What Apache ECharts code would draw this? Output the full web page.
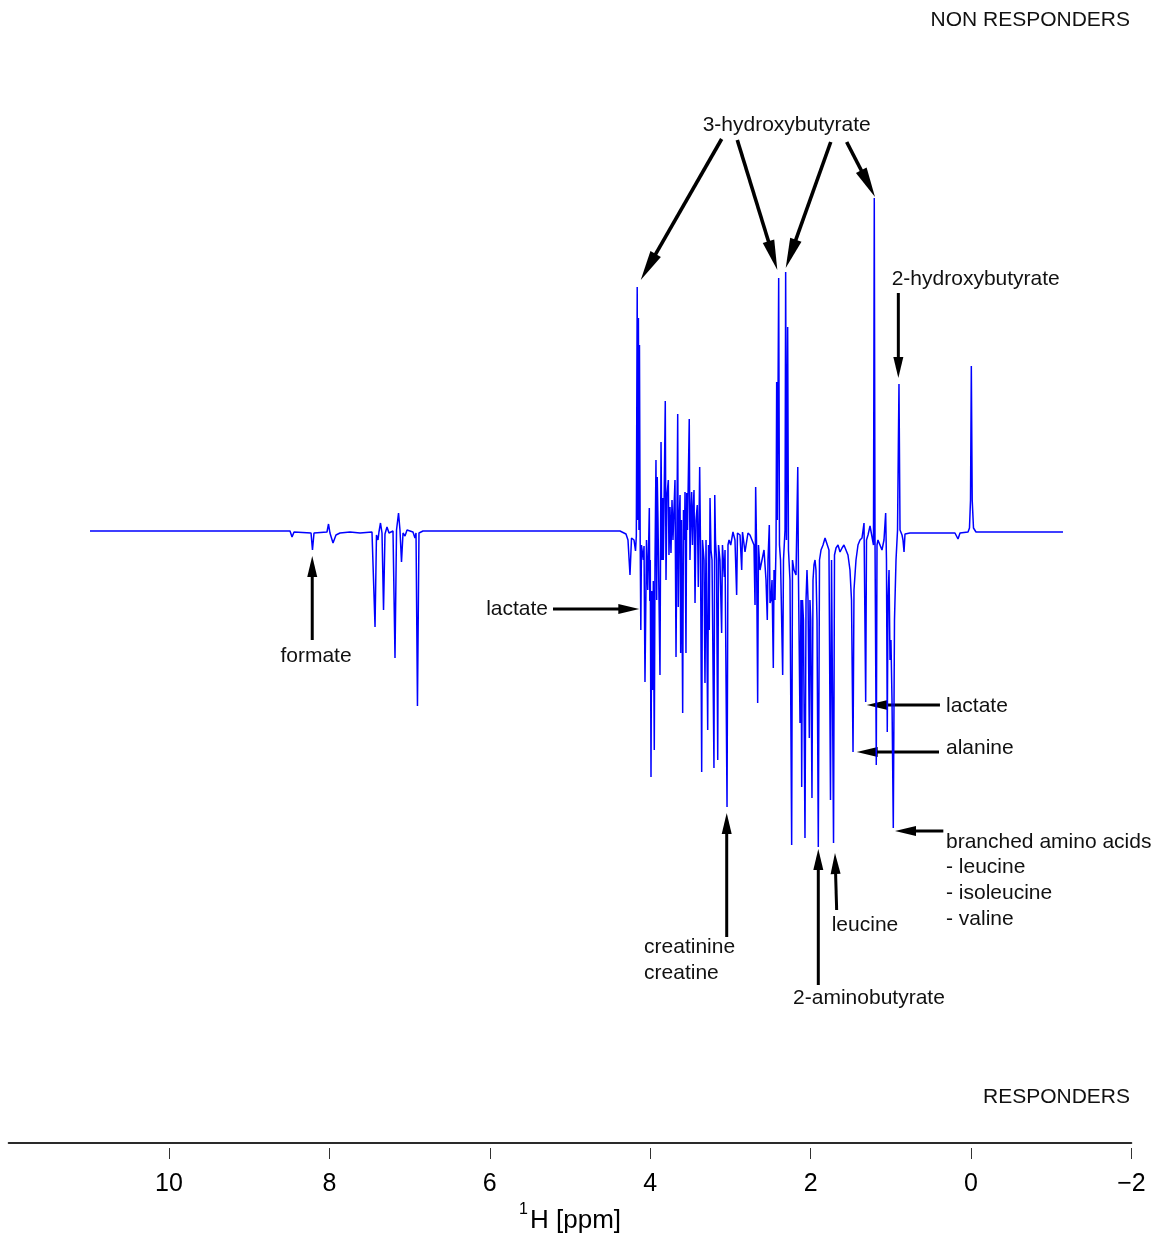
<!DOCTYPE html>
<html>
<head>
<meta charset="utf-8">
<script src="https://cdn.jsdelivr.net/npm/echarts@6/dist/echarts.min.js"></script>
<style>
  html, body { margin: 0; padding: 0; background: #ffffff; }
  #main { width: 1160px; height: 1238px; }
</style>
</head>
<body>
<div id="main"></div>
<script>
// ---- spectrum data: [chemical shift (ppm), intensity difference (a.u.)] ----
const aromaticRegion = [
  [10.985,0],[8.491,0],[8.466,-6],[8.441,-1],[8.229,-2],[8.211,-19],[8.192,-2],[8.030,-1],[8.011,7],[7.993,-2],
  [7.955,-12],[7.918,-4],[7.868,-2],[7.743,-1],[7.618,-2],[7.469,-1],[7.431,-96],[7.413,-4],[7.394,-9],[7.382,-1],
  [7.363,8],[7.344,-2],[7.325,-79],[7.307,-3],[7.282,4],[7.257,-2],[7.207,0],[7.182,-127],[7.163,1],[7.138,18],
  [7.120,1],[7.101,-31],[7.082,-2],[7.057,-5],[7.032,1],[6.958,-1],[6.933,-7],[6.920,-2],[6.902,-175],[6.883,-2],
  [6.833,0],[4.377,0]
];
const sugarRegion = [
  [4.352,-1],[4.302,-3],[4.277,-9],[4.252,-44],[4.233,-7],[4.202,-9],[4.183,-20],[4.173,-5],[4.162,244],[4.155,11],
  [4.147,213],[4.140,1],[4.134,186],[4.125,-9],[4.117,-99],[4.109,-14],[4.086,-29],[4.077,-15],[4.065,-151],[4.046,-9],
  [4.031,-59],[4.021,-20],[4.011,23],[4.005,-70],[3.999,-29],[3.990,-246],[3.981,-60],[3.969,-159],[3.961,-50],[3.949,-219],
  [3.940,-29],[3.928,71],[3.919,-69],[3.912,54],[3.903,11],[3.890,-69],[3.878,-144],[3.865,89],[3.853,-29],[3.844,33],
  [3.837,-29],[3.828,21],[3.812,130],[3.803,-49],[3.791,36],[3.774,51],[3.766,-24],[3.753,24],[3.741,-22],[3.728,31],
  [3.716,-9],[3.691,51],[3.678,-126],[3.666,11],[3.657,117],[3.650,-76],[3.641,5],[3.628,36],[3.620,-122],[3.610,11],
  [3.595,-182],[3.585,21],[3.572,-9],[3.566,39],[3.554,-122],[3.545,38],[3.535,1],[3.513,112],[3.504,-29],[3.491,21],
  [3.483,39],[3.473,-14],[3.466,16],[3.454,41],[3.441,-72],[3.429,11],[3.413,26],[3.400,-56],[3.383,64],[3.373,-14],
  [3.358,-241],[3.348,-9],[3.329,-29],[3.317,-152],[3.304,-9],[3.283,-199],[3.273,-14],[3.263,-99],[3.254,33],[3.242,-19],
  [3.229,-29],[3.205,-237],[3.195,36],[3.186,-9],[3.173,-29],[3.158,-229],[3.148,-14],[3.130,-29],[3.109,-102],[3.099,-14],
  [3.076,-46],[3.067,-19],[3.042,-276],[3.030,-14],[3.017,-9],[2.996,-14]
];
const aliphaticRegion = [
  [2.968,-1],[2.943,-9],[2.922,-64],[2.912,-2],[2.880,-4],[2.859,-39],[2.849,-1],[2.818,-21],[2.781,-2],[2.756,-4],
  [2.731,-9],[2.706,-14],[2.693,-74],[2.685,44],[2.675,-9],[2.660,-172],[2.650,-14],[2.631,-39],[2.606,-29],[2.581,-19],
  [2.556,-49],[2.540,-89],[2.531,-29],[2.515,6],[2.506,-72],[2.494,-69],[2.481,-49],[2.465,-137],[2.456,-39],[2.444,-69],
  [2.431,-14],[2.423,149],[2.415,11],[2.398,253],[2.388,-14],[2.375,-29],[2.348,-144],[2.338,-29],[2.319,1],[2.311,259],
  [2.301,-9],[2.286,204],[2.276,-19],[2.257,-49],[2.236,-314],[2.226,-29],[2.207,-39],[2.182,-44],[2.160,64],[2.151,-49],
  [2.132,-192],[2.120,-69],[2.111,-256],[2.101,-69],[2.089,-89],[2.070,-307],[2.057,-69],[2.045,-39],[2.032,-69],[2.016,-207],
  [2.008,-69],[1.998,-89],[1.983,-267],[1.970,-49],[1.958,-34],[1.945,-29],[1.933,-39],[1.920,-89],[1.904,-316],[1.889,-29],
  [1.870,-19],[1.845,-14],[1.820,-7],[1.796,-9],[1.771,-19],[1.752,-269],[1.739,-29],[1.727,-29],[1.714,-312],[1.702,-24],
  [1.683,-17],[1.658,-14],[1.633,-21]
];
const methylRegion = [
  [1.608,-17],[1.584,-14],[1.559,-19],[1.534,-24],[1.509,-39],[1.490,-69],[1.471,-221],[1.459,-59],[1.434,-29],[1.409,-14],
  [1.384,-9],[1.359,-7],[1.334,8],[1.313,-171],[1.303,-9],[1.284,-4],[1.259,5],[1.234,-6],[1.216,-14],[1.206,333],
  [1.197,-9],[1.181,-234],[1.172,-14],[1.160,-9],[1.135,-14],[1.110,-19],[1.085,-9],[1.064,18],[1.054,-29],[1.044,-201],
  [1.035,-69],[1.022,-39],[1.010,-129],[0.998,-109],[0.985,-169],[0.969,-297],[0.954,-89],[0.935,-29],[0.916,1],[0.906,84],
  [0.898,147],[0.885,1],[0.860,-4],[0.848,-9],[0.835,-21],[0.823,-3]
];
const referenceRegion = [
  [0.761,-2],[0.511,-2],[0.200,-2],[0.162,-8],[0.137,-2],[0.037,-1],[0.019,3],[0.006,31],[-0.004,165],[-0.015,31],
  [-0.031,3],[-0.062,-1],[-0.362,-1],[-1.147,-1]
];

// ---- axis ----
const tickValues = [10, 8, 6, 4, 2, 0, -2];
const axisMin = -2, axisMax = 12;

// ---- annotations (data coordinates) ----
const arrowFrom = [
  [3.109,392],[2.914,391],[1.749,389],[1.550,389],
  [0.906,238],[8.214,-109],[5.212,-78],[3.046,-406],
  [1.904,-454],[1.675,-379],[0.387,-174],[0.399,-221],[0.345,-300]
];
const arrowTo = [
  [4.118,251],[2.415,261],[2.310,263],[1.197,334],
  [0.906,153],[8.214,-25],[4.136,-78],[3.046,-282],
  [1.904,-318],[1.696,-322],[1.300,-174],[1.425,-221],[0.948,-300]
];
const labelTexts = ['3-hydroxybutyrate','2-hydroxybutyrate','formate','lactate','creatinine','creatine',
  '2-aminobutyrate','leucine','lactate','alanine','branched amino acids','- leucine','- isoleucine','- valine'];
const labelPos = [[2.298,406],[0.989,252],[8.167,-125],[5.274,-78],[4.077,-416],[4.077,-442],
  [1.272,-467],[1.737,-394],[0.312,-175],[0.312,-217],[0.312,-311],[0.312,-336],[0.312,-362],[0.312,-388]];
const labelAlign = ['center','left','center','right','left','left','center','left','left','left','left','left','left','left'];

const spectrum = [].concat(aromaticRegion, sugarRegion, aliphaticRegion, methylRegion, referenceRegion);
const FONT = '"Liberation Sans", Arial, Helvetica, sans-serif';

const chart = echarts.init(document.getElementById('main'), null, { renderer: 'canvas' });
const option = {
  animation: false,
  backgroundColor: '#ffffff',
  grid: { left: 8.6, right: 28.6, top: 31, bottom: 95, containLabel: false },
  xAxis: [
    {
      type: 'value', min: axisMin, max: axisMax, inverse: true, position: 'bottom',
      axisLine: { show: true, onZero: false, lineStyle: { color: '#2a2a2a', width: 1.8 } },
      axisTick: { show: false }, axisLabel: { show: false }, splitLine: { show: false }
    },
    {
      type: 'value', min: axisMin, max: axisMax, inverse: true, position: 'bottom', offset: 5,
      axisLine: { show: false, onZero: false },
      axisTick: { show: true, length: 11, customValues: tickValues, lineStyle: { color: '#333', width: 1 } },
      axisLabel: {
        show: true, customValues: tickValues, margin: 24, fontSize: 25, color: '#000', fontFamily: FONT,
        formatter: v => (v < 0 ? '\u2212' + Math.abs(v) : String(v))
      },
      splitLine: { show: false }
    }
  ],
  yAxis: { type: 'value', min: -612, max: 500, show: false, splitLine: { show: false } },
  series: [{
    type: 'line', xAxisIndex: 0, data: spectrum, showSymbol: false, symbol: 'none',
    lineStyle: { color: '#0000ff', width: 1.5 }, sampling: null, silent: true
  }]
};
chart.setOption(option);

const toPx = p => chart.convertToPixel({ xAxisIndex: 0, yAxisIndex: 0 }, p);
const graphics = [];
arrowFrom.forEach((f, i) => {
  const s = toPx(f), e = toPx(arrowTo[i]);
  const big = i < 4;
  const head = big ? 30 : 21, hw = big ? 6 : 5, lw = big ? 3.6 : 3;
  const dx = e[0] - s[0], dy = e[1] - s[1];
  const len = Math.hypot(dx, dy), ux = dx / len, uy = dy / len;
  const bx = e[0] - ux * head, by = e[1] - uy * head;
  graphics.push({ type: 'line', silent: true,
    shape: { x1: s[0], y1: s[1], x2: bx + ux * 3, y2: by + uy * 3 },
    style: { stroke: '#000', lineWidth: lw } });
  graphics.push({ type: 'polygon', silent: true,
    shape: { points: [[e[0], e[1]], [bx - uy * hw, by + ux * hw], [bx + uy * hw, by - ux * hw]] },
    style: { fill: '#000' } });
});
labelTexts.forEach((t, i) => {
  const p = toPx(labelPos[i]);
  graphics.push({ type: 'text', silent: true, x: p[0], y: p[1],
    style: { text: t, fill: '#111', font: '21px ' + FONT, align: labelAlign[i], verticalAlign: 'middle' } });
});
// axis title: superscript 1 + "H [ppm]"
graphics.push({ type: 'text', silent: true, x: 528, y: 1210,
  style: { text: '1', fill: '#000', font: '16px ' + FONT, align: 'right', verticalAlign: 'middle' } });
graphics.push({ type: 'text', silent: true, x: 530, y: 1221,
  style: { text: 'H [ppm]', fill: '#000', font: '26px ' + FONT, align: 'left', verticalAlign: 'middle' } });
graphics.push({ type: 'text', silent: true, x: 1130, y: 20,
  style: { text: 'NON RESPONDERS', fill: '#111', font: '21px ' + FONT, align: 'right', verticalAlign: 'middle' } });
graphics.push({ type: 'text', silent: true, x: 1130, y: 1097,
  style: { text: 'RESPONDERS', fill: '#111', font: '21px ' + FONT, align: 'right', verticalAlign: 'middle' } });
chart.setOption({ graphic: graphics });
</script>
</body>
</html>
